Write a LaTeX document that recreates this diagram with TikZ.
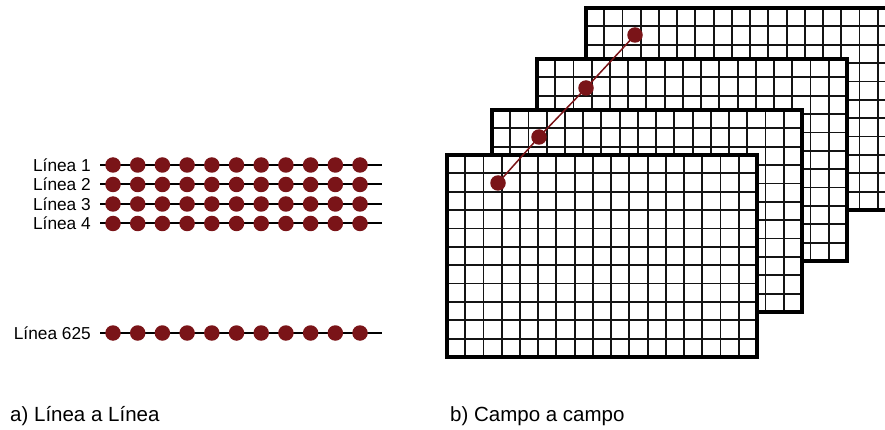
\documentclass[tikz,border=0pt]{standalone}
\usepackage{fontspec}
\setmainfont{Liberation Sans}
\definecolor{dotred}{RGB}{122,20,24}
\tikzset{
  gridline/.style={line width=1.9pt, black!92},
  framebox/.style={draw=black, line width=3.2pt, fill=none, minimum width=310pt, minimum height=202pt, anchor=north west, inner sep=0pt, outer sep=0pt},
  dotnode/.style={circle, fill=dotred, draw=none, minimum size=15.5pt, inner sep=0pt},
  hline/.style={line width=2pt, black},
  redline/.style={line width=1.5pt, dotred},
  lbl/.style={font=\fontsize{17.3}{20}\selectfont, inner sep=0pt, anchor=base east},
  capt/.style={font=\fontsize{20.5}{24}\selectfont, inner sep=0pt, anchor=base west},
}
\newcommand{\drawgridframe}[3]{%
  \fill[white] (#2,#3) rectangle ++(310,202);
  \foreach \i in {1,...,16} \draw[gridline] ({#2+\i*310/17},#3) -- ++(0,202);
  \foreach \j in {1,...,10} \draw[gridline] (#2,{#3+\j*202/11}) -- ++(310,0);
  \node[framebox] (#1) at (#2,#3) {};
}
\begin{document}
\begin{tikzpicture}[x=1pt,y=-1pt]
\useasboundingbox (0,0) rectangle (885,430);
\clip (0,0) rectangle (885,430);
\fill[white] (0,0) rectangle (885,430);
% left panel
\foreach \n/\y/\t in {1/165/Línea 1, 2/184.5/Línea 2, 3/204/Línea 3, 4/223.5/Línea 4, 5/333/Línea 625} {
  \node[lbl] (lab\n) at (91,\y+6.2) {\t};
  \coordinate (ls\n) at (100,\y);
  \coordinate (le\n) at (382,\y);
  \draw[hline] (ls\n) -- (le\n);
  \foreach \k in {0,...,10} \node[dotnode] (p\n-\k) at ({113+\k*24.7},\y) {};
}
% right panel frames, back to front
\drawgridframe{f4}{586}{8}
\drawgridframe{f3}{537}{59}
\drawgridframe{f2}{492}{110}
\drawgridframe{f1}{447}{155}
\node[dotnode] (d1) at (498,183) {};
\node[dotnode] (d2) at (539,137) {};
\node[dotnode] (d3) at (586,88) {};
\node[dotnode] (d4) at (635,35) {};
\draw[redline] (d1.center) -- (d2.center) -- (d3.center) -- (d4.center);
% captions
\node[capt] (capa) at (10,421) {a) Línea a Línea};
\node[capt] (capb) at (450,421) {b) Campo a campo};
\end{tikzpicture}
\end{document}
